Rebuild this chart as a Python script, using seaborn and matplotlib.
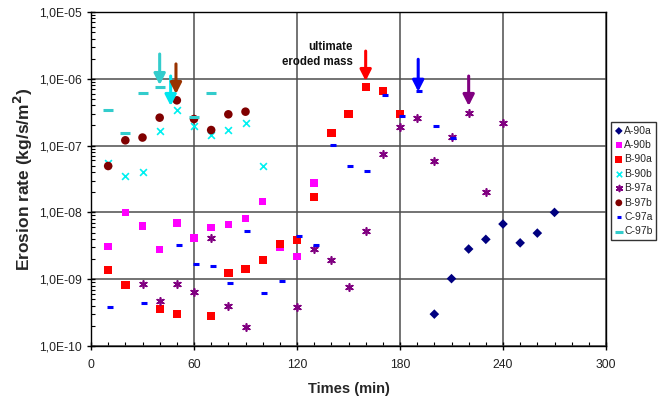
import numpy as np
import pandas as pd
import matplotlib
matplotlib.use("Agg")
import matplotlib.pyplot as plt
import matplotlib.ticker as mticker
import seaborn as sns

sns.set_theme(style="white")
plt.rcParams['font.family'] = ['Liberation Sans', 'DejaVu Sans']

# ---- data ----
t_a90a = [200, 210, 220, 230, 240, 250, 260, 270]
y_a90a = [3.0e-10, 1.02e-9, 2.83e-9, 3.95e-9, 6.7e-9, 3.5e-9, 4.9e-9, 1.0e-8]

t_a90b = [10, 20, 30, 40, 50, 60, 70, 80, 90, 100, 110, 120, 130]
y_a90b = [3.07e-9, 1.0e-8, 6.25e-9, 2.77e-9, 6.9e-9, 4.14e-9, 5.9e-9, 6.6e-9,
          8.05e-9, 1.45e-8, 2.96e-9, 2.17e-9, 2.75e-8]

t_b90a = [10, 20, 40, 50, 70, 80, 90, 100, 110, 120, 130, 140, 150, 160, 170, 180]
y_b90a = [1.37e-9, 8.2e-10, 3.58e-10, 2.98e-10, 2.84e-10, 1.24e-9, 1.42e-9, 1.94e-9,
          3.33e-9, 3.86e-9, 1.72e-8, 1.53e-7, 2.94e-7, 7.46e-7, 6.56e-7, 2.97e-7]

t_b90b = [10, 20, 30, 40, 50, 60, 70, 80, 90, 100]
y_b90b = [5.4e-8, 3.55e-8, 3.98e-8, 1.64e-7, 3.41e-7, 1.99e-7, 1.44e-7, 1.69e-7, 2.15e-7, 4.95e-8]

t_b97a = [30, 40, 50, 60, 70, 80, 90, 120, 130, 140, 150, 160, 170, 180, 190,
          200, 210, 220, 230, 240]
y_b97a = [8.4e-10, 4.67e-10, 8.57e-10, 6.43e-10, 4.19e-9, 4.01e-10, 1.92e-10, 3.79e-10,
          2.83e-9, 1.94e-9, 7.73e-10, 5.21e-9, 7.56e-8, 1.88e-7, 2.62e-7,
          5.94e-8, 1.36e-7, 3.11e-7, 2.04e-8, 2.2e-7]

t_b97b = [10, 20, 30, 40, 50, 60, 70, 80, 90]
y_b97b = [4.95e-8, 1.2e-7, 1.32e-7, 2.62e-7, 4.76e-7, 2.5e-7, 1.71e-7, 2.94e-7, 3.22e-7]

t_c97a = [11, 31, 51, 61, 71, 81, 91, 101, 111, 121, 131, 141, 151, 161, 171,
          181, 191, 201, 211]
y_c97a = [3.84e-10, 4.4e-10, 3.25e-9, 1.71e-9, 1.58e-9, 8.87e-10, 5.21e-9, 6.21e-10,
          9.5e-10, 4.43e-9, 3.21e-9, 1.03e-7, 4.95e-8, 4.17e-8, 5.78e-7,
          2.75e-7, 6.64e-7, 1.96e-7, 1.32e-7]

t_c97b = [10, 20, 30, 40, 60, 70]
y_c97b = [3.41e-7, 1.53e-7, 6.1e-7, 7.5e-7, 2.71e-7, 6.2e-7]

series_names = ["A-90a", "A-90b", "B-90a", "B-90b", "B-97a", "B-97b", "C-97a", "C-97b"]

# arrows: (time, y_start, y_end, color)
arrow_t = [40, 46.4, 49.5, 160, 190.6, 220]
arrow_y0 = [2.35e-6, 1.1e-6, 1.67e-6, 2.6e-6, 1.96e-6, 1.1e-6]
arrow_y1 = [8.07e-7, 3.92e-7, 5.92e-7, 9.27e-7, 6.41e-7, 3.92e-7]

# ---- build ----
data = {
    "A-90a": (t_a90a, y_a90a), "A-90b": (t_a90b, y_a90b), "B-90a": (t_b90a, y_b90a),
    "B-90b": (t_b90b, y_b90b), "B-97a": (t_b97a, y_b97a), "B-97b": (t_b97b, y_b97b),
    "C-97a": (t_c97a, y_c97a), "C-97b": (t_c97b, y_c97b),
}
styles = {
    "A-90a": dict(marker="D", color="#000080", s=24),
    "A-90b": dict(marker="s", color="#FF00FF", s=28),
    "B-90a": dict(marker="s", color="#FF0000", s=36),
    "B-90b": dict(marker="x", color="#00F0F0", s=24, linewidth=1.2),
    "B-97a": dict(marker=(6, 2, 0), color="#800080", s=28, linewidth=1.2),
    "B-97b": dict(marker="o", color="#800000", s=38),
    "C-97a": dict(marker="_", color="#0000FF", s=18, linewidth=2.2),
    "C-97b": dict(marker="_", color="#33CCCC", s=42, linewidth=2.2),
}
arrow_colors = ["#33CCCC", "#00E5EE", "#993300", "#FF0000", "#0000FF", "#800080"]

fig = plt.figure(figsize=(6.66, 3.99), dpi=100)
ax = fig.add_axes([91 / 666, 1 - 346 / 399, (606 - 91) / 666, (346 - 12) / 399])

for name in series_names:
    t, y = data[name]
    df = pd.DataFrame({"t": t, "y": y})
    st = styles[name]
    kw = dict(marker=st["marker"], color=st["color"], s=st["s"], ax=ax, label=name, zorder=3)
    if st["marker"] in ("x", "_", (6, 2, 0)):
        kw["linewidth"] = st.get("linewidth", 1.0)
    else:
        kw["edgecolor"] = "none"
    sns.scatterplot(data=df, x="t", y="y", **kw)

ax.set_yscale("log")
ax.set_xlim(0, 300)
ax.set_ylim(1e-10, 1e-5)
ax.xaxis.set_major_locator(mticker.MultipleLocator(60))
ax.xaxis.set_minor_locator(mticker.MultipleLocator(10))
ax.yaxis.set_major_locator(mticker.LogLocator(base=10, numticks=10))
ax.yaxis.set_minor_locator(mticker.LogLocator(base=10, subs=np.arange(2, 10), numticks=20))
ax.yaxis.set_minor_formatter(mticker.NullFormatter())

def yfmt(v, pos):
    e = int(round(np.log10(v)))
    return "1,0E-%02d" % (-e)
ax.yaxis.set_major_formatter(mticker.FuncFormatter(yfmt))

ax.grid(True, which="major", color="#4d4d4d", linewidth=1.1)
ax.set_axisbelow(True)
for sp in ax.spines.values():
    sp.set_color("black")
    sp.set_linewidth(1.0)
ax.tick_params(which="major", direction="inout", length=6, width=1.0, color="black",
               labelsize=8.7, labelcolor="#222222", left=True, bottom=True)
ax.tick_params(which="minor", direction="in", length=3, width=0.8, color="black",
               left=True, bottom=True)
ax.tick_params(axis="x", pad=6)

ax.set_xlabel("Times (min)", fontsize=10.5, fontweight="bold", labelpad=8)
ax.set_ylabel("Erosion rate (kg/s/m$^\\mathbf{2}$)", fontsize=12.5, fontweight="bold", labelpad=3)

for xt, ya, yb, c in zip(arrow_t, arrow_y0, arrow_y1, arrow_colors):
    ax.annotate("", xy=(xt, yb), xytext=(xt, ya),
                arrowprops=dict(arrowstyle="-|>,head_width=0.28,head_length=0.55",
                                color=c, lw=2.2, shrinkA=0, shrinkB=0), zorder=5)

ax.text(152.6, 2.31e-6, "ultimate\neroded mass", ha="right", va="center",
        multialignment="right", fontsize=8.3, fontweight="bold", color="#111111",
        linespacing=1.25)

leg = ax.legend(loc="upper left", bbox_to_anchor=(611 / 666, 1 - 122 / 399),
                bbox_transform=fig.transFigure, frameon=True, fancybox=False,
                fontsize=7.5, handletextpad=0.1, handlelength=0.8, borderpad=0.35,
                labelspacing=0.42, borderaxespad=0, markerscale=0.8)
leg.get_frame().set_edgecolor("black")
leg.get_frame().set_linewidth(1.0)

fig.savefig("out.png", dpi=100)
